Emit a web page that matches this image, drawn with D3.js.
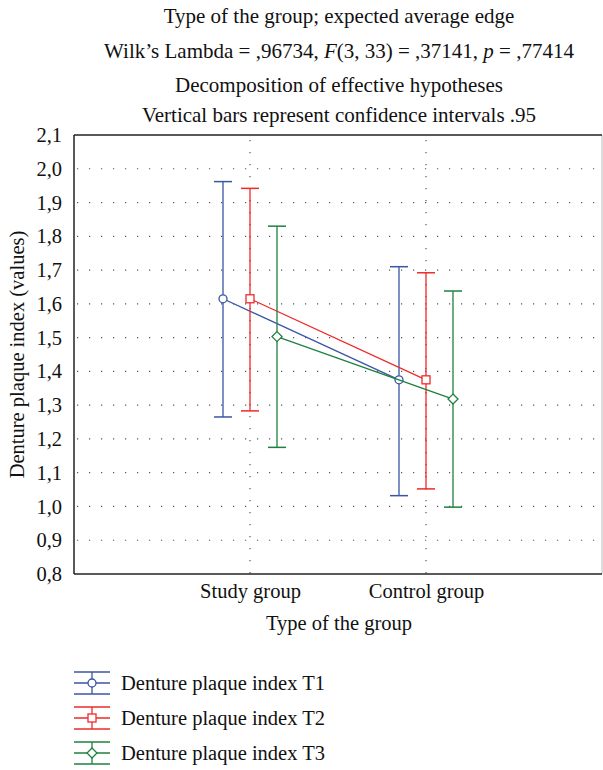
<!DOCTYPE html>
<html>
<head>
<meta charset="utf-8">
<script src="https://cdn.jsdelivr.net/npm/d3@7"></script>
<style>
  body { margin: 0; background: #fff; }
</style>
</head>
<body>
<div id="chart"></div>
<script>
// dados
const groups = ["Study group", "Control group"];
const seriesNames = ["Denture plaque index T1", "Denture plaque index T2", "Denture plaque index T3"];
const seriesColors = ["#3a55a4", "#ee2a2a", "#1e8040"];
const means = [
  [1.615, 1.375],
  [1.615, 1.375],
  [1.503, 1.318]
];
const upper = [
  [1.962, 1.710],
  [1.942, 1.692],
  [1.830, 1.638]
];
const lower = [
  [1.265, 1.032],
  [1.283, 1.052],
  [1.175, 0.998]
];
const yTicks = [0.8, 0.9, 1.0, 1.1, 1.2, 1.3, 1.4, 1.5, 1.6, 1.7, 1.8, 1.9, 2.0, 2.1];
const titleLines = [
  "Type of the group; expected average edge",
  null, // linha com italico, montada abaixo
  "Decomposition of effective hypotheses",
  "Vertical bars represent confidence intervals .95"
];

const W = 603, H = 770;
const pLeft = 74, pRight = 602, pTop = 135, pBottom = 574;
const FONT = "'Liberation Serif', 'Times New Roman', Times, serif";
const FS = "20.5px";

const svg = d3.select("#chart").append("svg")
  .attr("width", W).attr("height", H)
  .attr("font-family", FONT);

const x = d3.scalePoint().domain(groups).range([pLeft, pRight]).padding(1);
const offset = d3.scalePoint().domain(seriesNames).range([-27, 27]);
const y = d3.scaleLinear().domain([0.8, 2.1]).range([pBottom, pTop]);

const fmt = d => d3.format(".1f")(d).replace(".", ",");

// titulo
const titleY = [23, 58, 92, 122];
titleLines.forEach((t, i) => {
  const txt = svg.append("text")
    .attr("x", 339).attr("y", titleY[i])
    .attr("text-anchor", "middle")
    .attr("fill", "#111")
    .style("font-size", "21px");
  if (t) {
    txt.text(t);
  } else {
    txt.append("tspan").text("Wilk\u2019s Lambda = ,96734, ");
    txt.append("tspan").style("font-style", "italic").text("F");
    txt.append("tspan").text("(3, 33) = ,37141, ");
    txt.append("tspan").style("font-style", "italic").text("p");
    txt.append("tspan").text(" = ,77414");
  }
});

// grade pontilhada
svg.append("g").selectAll("line")
  .data(yTicks.filter(d => d > 0.8 && d < 2.1))
  .enter().append("line")
  .attr("x1", pLeft + 3).attr("x2", pRight)
  .attr("y1", d => y(d)).attr("y2", d => y(d))
  .attr("stroke", "#555").attr("stroke-width", 1.2)
  .attr("stroke-dasharray", "1.2,10.8");

svg.append("g").selectAll("line")
  .data(groups)
  .enter().append("line")
  .attr("x1", d => x(d)).attr("x2", d => x(d))
  .attr("y1", pTop + 5).attr("y2", pBottom)
  .attr("stroke", "#555").attr("stroke-width", 1.2)
  .attr("stroke-dasharray", "1.2,10.8");

// moldura
svg.append("line").attr("x1", pRight).attr("x2", pRight).attr("y1", pTop).attr("y2", pBottom)
  .attr("stroke", "#bbb").attr("stroke-width", 1);
svg.append("line").attr("x1", pLeft).attr("x2", pRight).attr("y1", pTop).attr("y2", pTop)
  .attr("stroke", "#222").attr("stroke-width", 1.5);
svg.append("line").attr("x1", pLeft).attr("x2", pRight).attr("y1", pBottom).attr("y2", pBottom)
  .attr("stroke", "#222").attr("stroke-width", 1.5);
svg.append("line").attr("x1", pLeft).attr("x2", pLeft).attr("y1", pTop).attr("y2", pBottom)
  .attr("stroke", "#222").attr("stroke-width", 1.5);

// eixo y
const yAxis = svg.append("g")
  .attr("transform", `translate(${pLeft},0)`)
  .call(d3.axisLeft(y).tickValues(yTicks).tickFormat(fmt).tickSize(0).tickPadding(12));
yAxis.attr("font-family", FONT).attr("font-size", FS);
yAxis.select(".domain").remove();
yAxis.selectAll("text").attr("fill", "#111");

// eixo x
const xAxis = svg.append("g")
  .attr("transform", `translate(0,${pBottom})`)
  .call(d3.axisBottom(x).tickSize(0).tickPadding(9));
xAxis.attr("font-family", FONT).attr("font-size", FS);
xAxis.select(".domain").remove();
xAxis.selectAll("text").attr("fill", "#111");

// rotulos dos eixos
svg.append("text")
  .attr("x", 339).attr("y", 630)
  .attr("text-anchor", "middle")
  .attr("fill", "#111")
  .style("font-size", FS)
  .text("Type of the group");

svg.append("text")
  .attr("transform", `translate(24,${(pTop + pBottom) / 2}) rotate(-90)`)
  .attr("text-anchor", "middle")
  .attr("fill", "#111")
  .style("font-size", FS)
  .text("Denture plaque index (values)");

// marcadores
function drawMarker(g, i, cx, cy) {
  const c = seriesColors[i];
  if (i === 0) {
    g.append("circle").attr("cx", cx).attr("cy", cy).attr("r", 4)
      .attr("fill", "#fff").attr("stroke", c).attr("stroke-width", 1.3);
  } else if (i === 1) {
    g.append("rect").attr("x", cx - 4).attr("y", cy - 4).attr("width", 8).attr("height", 8)
      .attr("fill", "#fff").attr("stroke", c).attr("stroke-width", 1.3);
  } else {
    g.append("path")
      .attr("d", `M${cx},${cy - 5}L${cx + 5},${cy}L${cx},${cy + 5}L${cx - 5},${cy}Z`)
      .attr("fill", "#fff").attr("stroke", c).attr("stroke-width", 1.3);
  }
}

const plot = svg.append("g");
seriesNames.forEach((name, i) => {
  const c = seriesColors[i];
  const g = plot.append("g");
  const pts = groups.map((grp, j) => ({
    x: x(grp) + offset(name), m: means[i][j], lo: lower[i][j], hi: upper[i][j]
  }));

  // linha ligando medias
  g.append("path")
    .datum(pts)
    .attr("d", d3.line().x(d => d.x).y(d => y(d.m)))
    .attr("fill", "none").attr("stroke", c).attr("stroke-width", 1.3);

  // barras de erro
  pts.forEach(p => {
    g.append("line").attr("x1", p.x).attr("x2", p.x)
      .attr("y1", y(p.hi)).attr("y2", y(p.lo))
      .attr("stroke", c).attr("stroke-width", 1.3);
    [p.hi, p.lo].forEach(v => {
      g.append("line").attr("x1", p.x - 9).attr("x2", p.x + 9)
        .attr("y1", y(v)).attr("y2", y(v))
        .attr("stroke", c).attr("stroke-width", 1.5);
    });
  });
  pts.forEach(p => drawMarker(g, i, p.x, y(p.m)));
});

// legenda
const legendY = [683, 718, 753];
seriesNames.forEach((name, i) => {
  const c = seriesColors[i];
  const g = svg.append("g");
  const cy = legendY[i];
  const x0 = 74, x1 = 110, cx = (x0 + x1) / 2;
  [-11, 0, 11].forEach(dy => {
    g.append("line").attr("x1", x0).attr("x2", x1)
      .attr("y1", cy + dy).attr("y2", cy + dy)
      .attr("stroke", c).attr("stroke-width", 1.3);
  });
  g.append("line").attr("x1", cx).attr("x2", cx)
    .attr("y1", cy - 11).attr("y2", cy + 11)
    .attr("stroke", c).attr("stroke-width", 1.3);
  drawMarker(g, i, cx, cy);
  g.append("text")
    .attr("x", 121).attr("y", cy + 7)
    .attr("fill", "#111")
    .style("font-size", FS)
    .text(name);
});
</script>
</body>
</html>
